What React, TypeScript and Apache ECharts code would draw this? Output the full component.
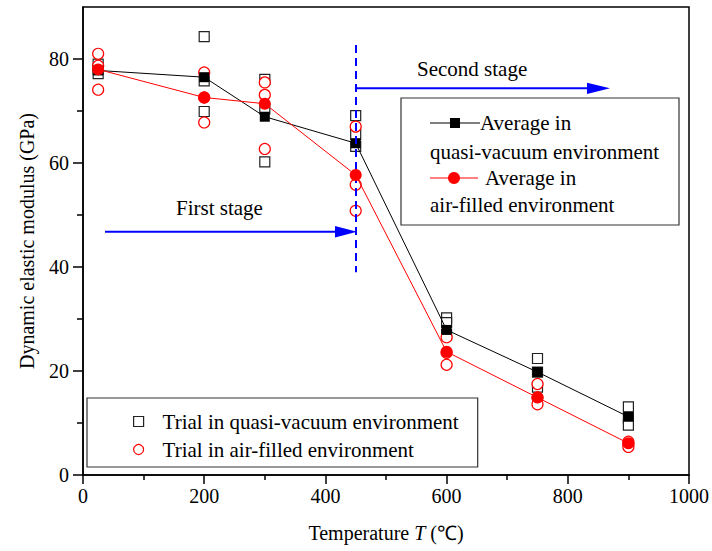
import React, { useEffect, useRef } from "react";
import * as echarts from "echarts";

const temps = [25, 200, 300, 450, 600, 750, 900];

// Individual trials, quasi-vacuum (three trials per temperature)
const vacTrialA = [79.0, 84.3, 76.1, 69.1, 30.2, 22.4, 13.1];
const vacTrialB = [78.0, 75.8, 70.4, 65.5, 29.3, 19.8, 11.0];
const vacTrialC = [77.2, 69.9, 60.2, 63.2, 27.0, 16.9, 9.6];

// Individual trials, air-filled
const airTrialA = [81.0, 77.4, 75.5, 67.0, 26.5, 17.5, 6.4];
const airTrialB = [78.7, 72.6, 73.1, 55.8, 23.5, 14.9, 5.9];
const airTrialC = [74.1, 67.8, 62.7, 50.8, 21.2, 13.6, 5.4];

// Averages
const vacAvg = [77.8, 76.5, 68.9, 63.8, 27.9, 19.8, 11.2];
const airAvg = [78.0, 72.6, 71.4, 57.7, 23.7, 14.9, 6.1];

const yLabelValues = [0, 20, 40, 60, 80];
const yMinorValues = [10, 30, 50, 70];

const stageBoundary = 450;
const stageLineRange = [39, 82.7];

const FONT = "'Liberation Serif', 'Times New Roman', serif";

const zipTrials = (...arrs: number[][]) => {
  const out: number[][] = [];
  arrs.forEach((arr) => arr.forEach((v, i) => out.push([temps[i], v])));
  return out;
};

export default function App() {
  const ref = useRef<HTMLDivElement>(null);
  useEffect(() => {
    if (!ref.current) return;
    const chart = echarts.init(ref.current, null, { renderer: "svg" });
    const vacName = "Trial in quasi-vacuum environment";
    const airName = "Trial in air-filled environment";
    const txt = (text: string, x: number, y: number) => ({
      type: "text",
      z: 101,
      style: { text, x, y, fontSize: 21, fontFamily: FONT, fill: "#000", verticalAlign: "middle", align: "left" },
    });
    chart.setOption({
      animation: false,
      backgroundColor: "#fff",
      grid: {
        left: 83,
        top: 7,
        right: 22,
        bottom: 76,
        show: true,
        borderColor: "#000",
        borderWidth: 1.5,
        backgroundColor: "transparent",
      },
      xAxis: {
        type: "value",
        min: 0,
        max: 1000,
        interval: 200,
        name: "Temperature {i|T} (℃)",
        nameLocation: "middle",
        nameGap: 48,
        nameTextStyle: {
          fontSize: 20,
          fontFamily: FONT,
          color: "#000",
          rich: { i: { fontStyle: "italic", fontSize: 20, fontFamily: FONT, color: "#000" } },
        },
        axisLine: { lineStyle: { color: "#000", width: 1.5 } },
        axisTick: { show: true, length: 9, lineStyle: { color: "#000", width: 1.5 } },
        minorTick: { show: true, splitNumber: 2, length: 5, lineStyle: { color: "#000", width: 1.5 } },
        axisLabel: { fontSize: 20, fontFamily: FONT, color: "#000", margin: 11, formatter: (v: number) => String(v) },
        splitLine: { show: false },
      },
      yAxis: [
        {
          type: "value",
          min: 0,
          max: 90,
          interval: 10,
          position: "left",
          name: "Dynamic elastic modulus (GPa)",
          nameLocation: "middle",
          nameGap: 46,
          nameTextStyle: { fontSize: 20, fontFamily: FONT, color: "#000" },
          axisLine: { show: true, lineStyle: { color: "#000", width: 1.5 } },
          axisTick: { show: true, length: 10, customValues: yLabelValues, lineStyle: { color: "#000", width: 1.5 } },
          axisLabel: { fontSize: 20, fontFamily: FONT, color: "#000", margin: 14, customValues: yLabelValues },
          splitLine: { show: false },
        },
        {
          type: "value",
          min: 0,
          max: 90,
          interval: 10,
          position: "left",
          offset: 0,
          axisLine: { show: false },
          axisTick: { show: true, length: 6, customValues: yMinorValues, lineStyle: { color: "#000", width: 1.5 } },
          axisLabel: { show: false },
          splitLine: { show: false },
        },
      ],
      legend: {
        show: true,
        orient: "vertical",
        left: 87,
        top: 398,
        padding: [13, 19, 7, 46],
        itemGap: 7,
        itemWidth: 38,
        itemHeight: 10,
        symbolKeepAspect: true,
        backgroundColor: "#fff",
        borderColor: "#333",
        borderWidth: 1.2,
        borderRadius: 0,
        textStyle: { fontSize: 21, fontFamily: FONT, color: "#000" },
        selectedMode: false,
        data: [
          {
            name: vacName,
            icon: "path://M0,0L10,0L10,10L0,10Z",
            itemStyle: { color: "#fff", borderColor: "#222", borderWidth: 1.2 },
          },
          { name: airName, icon: "circle", itemStyle: { color: "#fff", borderColor: "#ff0000", borderWidth: 1.2 } },
        ],
      },
      series: [
        {
          name: vacName,
          type: "scatter",
          symbol: "rect",
          symbolSize: 10,
          itemStyle: { color: "#fff", borderColor: "#222", borderWidth: 1.2, opacity: 1 },
          data: zipTrials(vacTrialA, vacTrialB, vacTrialC),
          z: 2,
        },
        {
          name: airName,
          type: "scatter",
          symbol: "circle",
          symbolSize: 11,
          itemStyle: { color: "#fff", borderColor: "#ff0000", borderWidth: 1.2, opacity: 1 },
          data: zipTrials(airTrialA, airTrialB, airTrialC),
          z: 3,
        },
        {
          name: "Average in quasi-vacuum environment",
          type: "line",
          symbol: "rect",
          symbolSize: 10,
          showAllSymbol: true,
          lineStyle: { color: "#000", width: 1 },
          itemStyle: { color: "#000", borderColor: "#000", borderWidth: 0 },
          data: temps.map((t, i) => [t, vacAvg[i]]),
          z: 4,
          markLine: {
            silent: true,
            symbol: ["none", "none"],
            label: { show: false },
            lineStyle: { color: "#0000ff", width: 2, type: [8, 5] },
            data: [[{ coord: [stageBoundary, stageLineRange[1]] }, { coord: [stageBoundary, stageLineRange[0]] }]],
          },
        },
        {
          name: "Average in air-filled environment",
          type: "line",
          symbol: "circle",
          symbolSize: 12,
          showAllSymbol: true,
          lineStyle: { color: "#ff0000", width: 1 },
          itemStyle: { color: "#ff0000", borderColor: "#ff0000", borderWidth: 0 },
          data: temps.map((t, i) => [t, airAvg[i]]),
          z: 5,
        },
      ],
      graphic: [
        // First stage arrow
        { type: "line", z: 100, shape: { x1: 105, y1: 231.7, x2: 340, y2: 231.7 }, style: { stroke: "#0000ff", lineWidth: 2 } },
        { type: "polygon", z: 100, shape: { points: [[335, 226], [357, 231.7], [335, 237.5]] }, style: { fill: "#0000ff" } },
        txt("First stage", 176, 208),
        // Second stage arrow
        { type: "line", z: 100, shape: { x1: 356, y1: 88.3, x2: 592, y2: 88.3 }, style: { stroke: "#0000ff", lineWidth: 2 } },
        { type: "polygon", z: 100, shape: { points: [[587, 82.7], [610, 88.3], [587, 94]] }, style: { fill: "#0000ff" } },
        txt("Second stage", 417, 69),
        // Average legend box
        {
          type: "rect",
          z: 100,
          shape: { x: 401, y: 98, width: 278, height: 127 },
          style: { fill: "#fff", stroke: "#333", lineWidth: 1.2 },
        },
        { type: "line", z: 101, shape: { x1: 430, y1: 123, x2: 480, y2: 123 }, style: { stroke: "#000", lineWidth: 1 } },
        { type: "rect", z: 102, shape: { x: 450, y: 118, width: 10, height: 10 }, style: { fill: "#000" } },
        txt("Average in", 480, 123),
        txt("quasi-vacuum environment", 430, 151.5),
        { type: "line", z: 101, shape: { x1: 430, y1: 178, x2: 478, y2: 178 }, style: { stroke: "#ff0000", lineWidth: 1 } },
        { type: "circle", z: 102, shape: { cx: 454, cy: 178, r: 6 }, style: { fill: "#ff0000" } },
        txt("Average in", 485, 178),
        txt("air-filled environment", 430, 205),
      ],
    });
    return () => chart.dispose();
  }, []);
  return <div ref={ref} style={{ position: "fixed", left: 0, top: 0, width: 712, height: 551 }} />;
}
